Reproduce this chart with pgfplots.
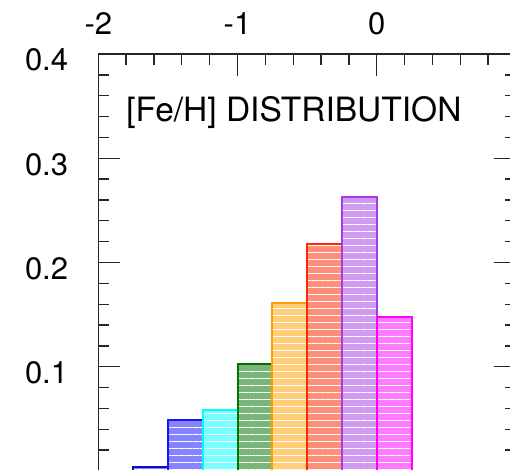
\documentclass[border=0pt]{standalone}
\usepackage{fontspec}
\setmainfont{TeX Gyre Heros}
\usepackage{pgfplots}
\pgfplotsset{compat=1.18}
\usetikzlibrary{patterns.meta}

\definecolor{cDB}{RGB}{10,10,210}
\definecolor{cB}{RGB}{20,20,255}
\definecolor{cC}{RGB}{0,255,255}
\definecolor{cG}{RGB}{0,115,0}
\definecolor{cO}{RGB}{255,160,0}
\definecolor{cR}{RGB}{255,40,0}
\definecolor{cP}{RGB}{165,60,230}
\definecolor{cM}{RGB}{255,0,255}

\pgfplotsset{
  histbar/.style={ybar interval, draw=#1, line width=2pt, fill=#1!52,
    postaction={pattern={Lines[angle=0,distance=7pt,line width=1.3pt]}, pattern color=white}},
}

\begin{document}
\begin{tikzpicture}
\begin{axis}[
  at={(0,0)}, anchor=south west,
  scale only axis, width=417.6pt, height=416.8pt,
  xmin=-2, xmax=1, ymin=0, ymax=0.4,
  axis line style={line width=1.3pt, black!85},
  xtick={-2,-1,0,1}, xticklabels={-2,-1,0,1},
  ytick={0,0.1,0.2,0.3,0.4}, yticklabels={,0.1,0.2,0.3,0.4},
  minor x tick num=4, minor y tick num=4,
  tick align=inside, xtick pos=upper, ytick pos=both,
  xticklabel pos=upper, yticklabel pos=left,
  major tick length=21.7pt, minor tick length=11pt,
  tick style={line width=1.3pt, black!85},
  ticklabel style={font=\fontsize{31}{36}\selectfont, inner sep=0pt},
  xticklabel style={anchor=base, yshift=20pt},
  yticklabel style={anchor=east, xshift=-30pt, yshift=-6pt},
]
\addplot[histbar=cDB] coordinates {(-1.75,0.004) (-1.5,0.004)};
\addplot[histbar=cB] coordinates {(-1.5,0.049) (-1.25,0.049)};
\addplot[histbar=cC] coordinates {(-1.25,0.058) (-1.0,0.058)};
\addplot[histbar=cG] coordinates {(-1.0,0.103) (-0.75,0.103)};
\addplot[histbar=cO] coordinates {(-0.75,0.161) (-0.5,0.161)};
\addplot[histbar=cR] coordinates {(-0.5,0.218) (-0.25,0.218)};
\addplot[histbar=cP] coordinates {(-0.25,0.263) (0.0,0.263)};
\addplot[histbar=cM] coordinates {(0.0,0.148) (0.25,0.148)};
\node[anchor=base west, inner sep=0pt, font=\fontsize{33.5}{38}\selectfont] at (axis cs:-1.80,0.335) {[Fe/H] DISTRIBUTION};
\end{axis}
\pgfresetboundingbox
\useasboundingbox (-98.3pt,1.5pt) rectangle (411.7pt,470.9pt);
\end{tikzpicture}
\end{document}
